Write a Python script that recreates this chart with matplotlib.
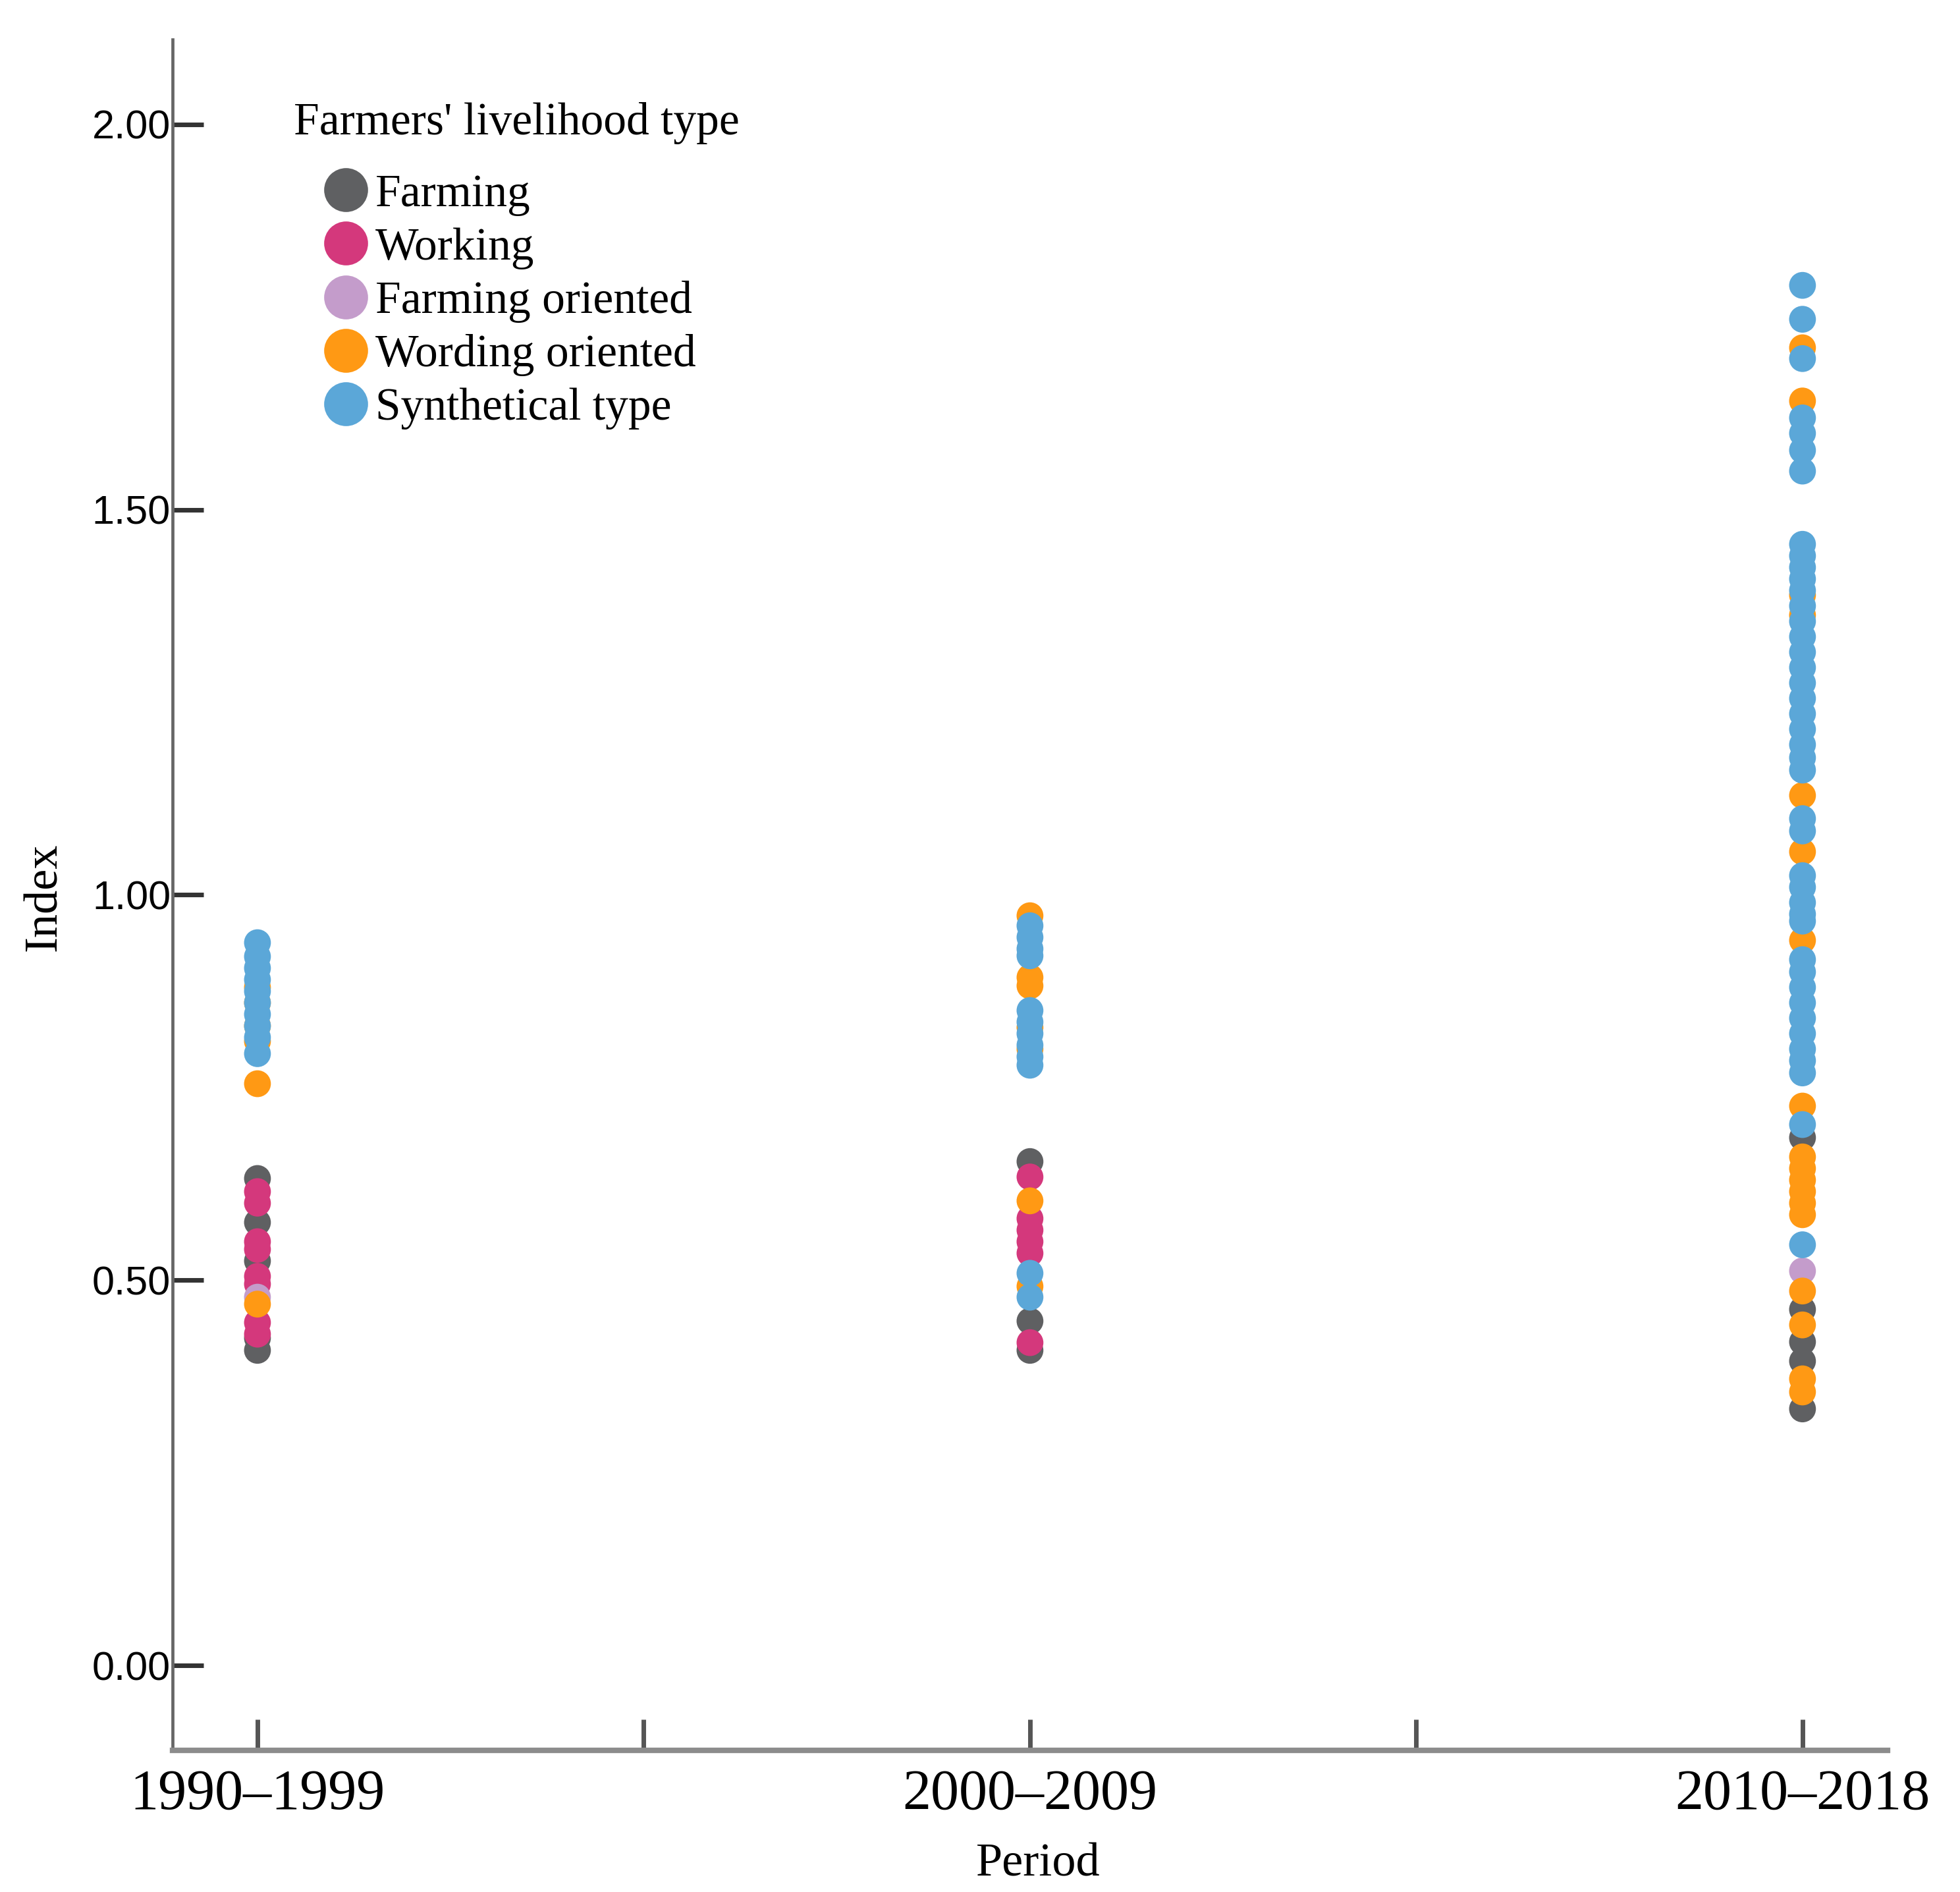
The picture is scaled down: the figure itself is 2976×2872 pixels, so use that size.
import matplotlib
matplotlib.use("Agg")
import matplotlib.pyplot as plt
from matplotlib.lines import Line2D

# =====================================================
# DATA
# =====================================================
PERIODS = ["1990\u20131999", "2000\u20132009", "2010\u20132018"]
TYPES = ["Farming", "Working", "Farming oriented", "Wording oriented", "Synthetical type"]
COLORS = ["#5f6062", "#d4387c", "#c49ccb", "#ff9914", "#5ba7d8"]

# one list per period: 1990-1999, 2000-2009, 2010-2018
farming = [
    [0.632, 0.575, 0.525, 0.425, 0.409],
    [0.654, 0.447, 0.409],
    [0.685, 0.462, 0.420, 0.395, 0.333],
]
working = [
    [0.615, 0.600, 0.550, 0.540, 0.505, 0.495, 0.445, 0.430],
    [0.634, 0.580, 0.565, 0.550, 0.535, 0.419],
    [],
]
farming_oriented = [
    [0.478],
    [],
    [0.512],
]
wording_oriented = [
    [0.880, 0.860, 0.830, 0.810, 0.755, 0.469],
    [0.973, 0.893, 0.882, 0.828, 0.800, 0.603, 0.492],
    [1.710, 1.641, 1.389, 1.363, 1.129, 1.056, 0.941, 0.726,
     0.660, 0.645, 0.630, 0.615, 0.600, 0.585, 0.486, 0.442, 0.372, 0.355],
]
synthetical = [
    [0.938, 0.920, 0.905, 0.890, 0.875, 0.860, 0.845, 0.830, 0.815, 0.794],
    [0.960, 0.945, 0.930, 0.921, 0.850, 0.835, 0.820, 0.805, 0.790, 0.779,
     0.509, 0.478],
    [1.791, 1.747, 1.696, 1.619, 1.599, 1.577, 1.550,
     1.455, 1.440, 1.425, 1.410, 1.395, 1.375, 1.355, 1.335, 1.315, 1.295,
     1.275, 1.255, 1.235, 1.215, 1.195, 1.178, 1.162,
     1.099, 1.083, 1.025, 1.010, 0.990, 0.975, 0.966,
     0.916, 0.900, 0.880, 0.860, 0.840, 0.820, 0.800, 0.785, 0.769,
     0.702, 0.546],
]
SERIES = [farming, working, farming_oriented, wording_oriented, synthetical]

YTICKS = [0.0, 0.5, 1.0, 1.5, 2.0]

# =====================================================
# PLOT
# =====================================================
plt.rcParams["font.family"] = ["Liberation Serif", "DejaVu Serif"]

fig = plt.figure(figsize=(14.88, 14.36), dpi=200)
ax = fig.add_axes([0.0880, 0.0749, 0.8750, 0.9042])

for vals, color in zip(SERIES, COLORS):
    for i, v in enumerate(vals):
        if len(v) == 0:
            continue
        ax.scatter([i] * len(v), v, s=215, color=color,
                   edgecolors="none", zorder=3, clip_on=False)

ax.set_xlim(-0.11, 2.11)
ax.set_ylim(-0.11, 2.11)

ax.set_xticks([0, 0.5, 1, 1.5, 2])
ax.set_xticklabels([PERIODS[0], "", PERIODS[1], "", PERIODS[2]])
ax.set_yticks(YTICKS)
ax.set_yticklabels([f"{t:.2f}" for t in YTICKS])
for lab in ax.get_yticklabels():
    lab.set_fontfamily("Liberation Sans")

ax.spines["top"].set_visible(False)
ax.spines["right"].set_visible(False)
ax.spines["left"].set_color("#666666")
ax.spines["left"].set_linewidth(1.7)
ax.spines["bottom"].set_color("#8c8c8c")
ax.spines["bottom"].set_linewidth(3.0)

ax.tick_params(axis="y", direction="in", length=17, width=2.5,
               color="#333333", pad=1, labelsize=22)
ax.tick_params(axis="x", direction="in", length=17, width=2.5,
               color="#555555", pad=10, labelsize=31)

fig.text(67 / 2976, 1 - 1362 / 2872, "Index", rotation=90,
         ha="center", va="center", fontsize=26)
fig.text(1576 / 2976, 1 - 2830 / 2872, "Period",
         ha="center", va="center", fontsize=26)

# legend
fig.text(446 / 2976, 1 - 204 / 2872, "Farmers' livelihood type",
         ha="left", va="baseline", fontsize=25)
handles = [Line2D([], [], marker="o", linestyle="none", markersize=24,
                  markerfacecolor=c, markeredgecolor="none") for c in COLORS]
ax.legend(handles, TYPES, loc="upper left",
          bbox_to_anchor=(490 / 2976, 1 - 264 / 2872),
          bbox_transform=fig.transFigure, frameon=False,
          borderpad=0, borderaxespad=0, handlelength=1.0,
          handletextpad=0.15, labelspacing=0.25, fontsize=25)

fig.savefig("out.png", dpi=200, facecolor="white")
plt.close(fig)
